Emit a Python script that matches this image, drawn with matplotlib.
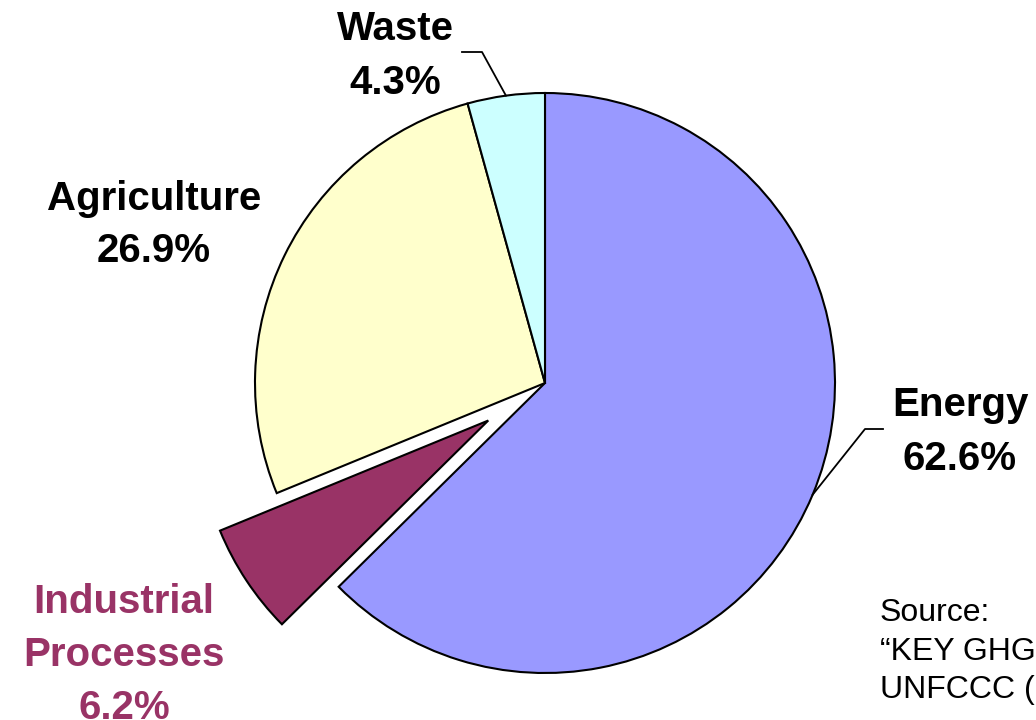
import numpy as np
import matplotlib
matplotlib.use('Agg')
import matplotlib.pyplot as plt

# GHG emissions by sector (share of total, %)
sectors = ['Energy', 'Industrial\nProcesses', 'Agriculture', 'Waste']
shares = [62.6, 6.2, 26.9, 4.3]
colors = ['#9999FF', '#993366', '#FFFFCC', '#CCFFFF']
explode_px = [0, 68, 0, 0]
source_lines = ['Source:', '\u201cKEY GHG DATA\u201d,', 'UNFCCC (2005)']

plt.rcParams['font.family'] = ['Liberation Sans', 'DejaVu Sans']

W, H = 1036, 720
fig = plt.figure(figsize=(W / 100, H / 100), dpi=100)
ax = fig.add_axes([0, 0, 1, 1])
ax.set_xlim(0, W)
ax.set_ylim(0, H)
ax.set_aspect('equal')
ax.axis('off')

cx, cy, r = 545, H - 383, 290
wedges, _ = ax.pie(shares, colors=colors, explode=explode_px, startangle=90,
                   counterclock=False, radius=r, center=(cx, cy),
                   wedgeprops=dict(edgecolor='black', linewidth=1.5))
ax.set_xlim(0, W)
ax.set_ylim(0, H)

def mid_angle(w):
    return np.deg2rad((w.theta1 + w.theta2) / 2)

# label text positions (pixel coordinates, y from top)
fs = 29
ls = 1.5
ax.text(960, H - 432, 'Energy\n62.6%', ha='center', va='center', fontsize=fs,
        fontweight='bold', linespacing=ls)
ax.text(124, H - 655, 'Industrial\nProcesses\n6.2%', ha='center', va='center',
        fontsize=fs, fontweight='bold', color='#993366', linespacing=ls)
ax.text(154, H - 225, 'Agriculture\n26.9%', ha='center', va='center',
        fontsize=fs, fontweight='bold', linespacing=ls)
ax.text(395, H - 56, 'Waste\n4.3%', ha='center', va='center', fontsize=fs,
        fontweight='bold', linespacing=ls)

# leader lines from the wedge edge
a = mid_angle(wedges[0])
p0 = (cx + r * np.cos(a), cy + r * np.sin(a))
ax.plot([p0[0], 865, 883], [p0[1], H - 429, H - 429], color='black', lw=1.3)
a = mid_angle(wedges[3])
p0 = (cx + r * np.cos(a), cy + r * np.sin(a))
ax.plot([p0[0], 482, 462], [p0[1], H - 52, H - 52], color='black', lw=1.3)

ax.text(880, H - 598, '\n'.join(source_lines), ha='left', va='top',
        fontsize=23, linespacing=1.37)

fig.savefig('out.png', dpi=100)
